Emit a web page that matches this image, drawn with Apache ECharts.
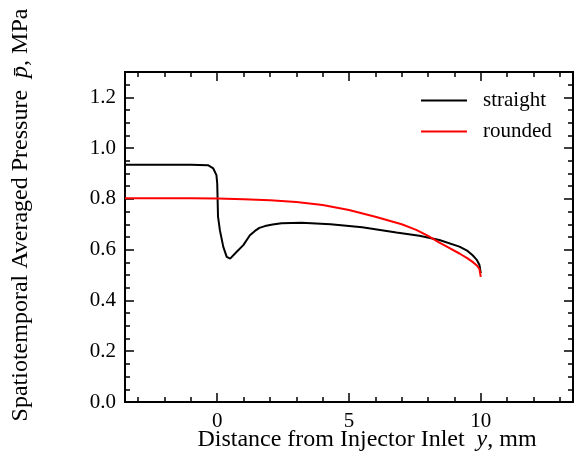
<!DOCTYPE html>
<html>
<head>
<meta charset="utf-8">
<script src="https://cdn.jsdelivr.net/npm/echarts@6/dist/echarts.min.js"></script>
<style>
  html, body { margin: 0; padding: 0; background: #fff; }
  #chart { width: 578px; height: 452px; }
</style>
</head>
<body>
<div id="chart"></div>
<script>
// distance from injector inlet (mm) and averaged pressure (MPa)
const straightY = [-3.5, -1, -0.35, -0.15, -0.03, 0, 0.03, 0.1, 0.23, 0.36, 0.49, 0.74, 0.99, 1.24, 1.43, 1.6, 1.81, 2.1, 2.44, 3.2, 4.3, 5.5, 6.8, 7.67, 8.43, 9.19, 9.5, 9.69, 9.85, 9.95, 10]
const straightP = [0.935, 0.935, 0.933, 0.92, 0.894, 0.86, 0.73, 0.677, 0.611, 0.572, 0.565, 0.592, 0.618, 0.657, 0.674, 0.686, 0.693, 0.699, 0.704, 0.706, 0.70, 0.688, 0.668, 0.655, 0.638, 0.612, 0.595, 0.578, 0.56, 0.54, 0.508]

const roundedY = [-3.5, -1, 0, 1, 2, 3, 4, 5, 6, 7, 7.55, 8, 8.43, 8.8, 9.19, 9.5, 9.69, 9.85, 9.95, 10]
const roundedP = [0.803, 0.803, 0.802, 0.799, 0.795, 0.788, 0.776, 0.756, 0.73, 0.7, 0.678, 0.654, 0.628, 0.607, 0.585, 0.566, 0.552, 0.538, 0.524, 0.493]

const xMajor = [0, 5, 10]
const xMinor = [-3, -2, -1, 0, 1, 2, 3, 4, 5, 6, 7, 8, 9, 10, 11, 12, 13]
const yMajor = [0, 0.2, 0.4, 0.6, 0.8, 1.0, 1.2]
const yMinor = [0, 0.05, 0.1, 0.15, 0.2, 0.25, 0.3, 0.35, 0.4, 0.45, 0.5, 0.55, 0.6, 0.65, 0.7, 0.75, 0.8, 0.85, 0.9, 0.95, 1.0, 1.05, 1.1, 1.15, 1.2, 1.25]

const font = 'Liberation Serif'
const zip = (xs, ys) => xs.map((x, i) => [x, ys[i]])

const chart = echarts.init(document.getElementById('chart'))

const xAx = (pos, ticks, len, labels) => ({
  type: 'value', min: -3.5, max: 13.5, position: pos,
  axisLine: { show: true, onZero: false, lineStyle: { color: '#000', width: 2 } },
  axisTick: { show: true, inside: true, length: len, customValues: ticks, lineStyle: { color: '#000', width: 1.5 } },
  axisLabel: labels
    ? { show: true, customValues: xMajor, margin: 9, color: '#000', fontSize: 21, fontFamily: font }
    : { show: false },
  splitLine: { show: false },
})
const yAx = (pos, ticks, len, labels) => ({
  type: 'value', min: 0, max: 1.3, position: pos,
  axisLine: { show: true, onZero: false, lineStyle: { color: '#000', width: 2 } },
  axisTick: { show: true, inside: true, length: len, customValues: ticks, lineStyle: { color: '#000', width: 1.5 } },
  axisLabel: labels
    ? { show: true, customValues: yMajor, margin: 9, color: '#000', fontSize: 21, fontFamily: font, formatter: (v) => v.toFixed(1) }
    : { show: false },
  splitLine: { show: false },
})

chart.setOption({
  animation: false,
  backgroundColor: '#fff',
  grid: { left: 125, right: 5, top: 72, bottom: 50 },
  xAxis: [
    xAx('bottom', xMajor, 9, true),
    xAx('bottom', xMinor, 5, false),
    xAx('top', xMajor, 9, false),
    xAx('top', xMinor, 5, false),
  ],
  yAxis: [
    yAx('left', yMajor, 9, true),
    yAx('left', yMinor, 5, false),
    yAx('right', yMajor, 9, false),
    yAx('right', yMinor, 5, false),
  ],
  legend: {
    orient: 'vertical', left: 421, top: 90, padding: 0,
    icon: 'rect', itemWidth: 46, itemHeight: 2, itemGap: 10,
    textStyle: { color: '#000', fontSize: 21, lineHeight: 21, fontFamily: font, padding: [0, 0, 0, 11] },
    data: ['straight', 'rounded'],
  },
  graphic: [
    {
      type: 'text', x: 367, y: 440,
      style: {
        text: 'Distance from Injector Inlet  {i|y}, mm',
        font: '24px "Liberation Serif"', fill: '#000', align: 'center', verticalAlign: 'middle',
        rich: { i: { fontStyle: 'italic', fontSize: 24, fontFamily: font } },
      },
    },
    {
      type: 'text', x: 21, y: 215, rotation: Math.PI / 2,
      style: {
        text: 'Spatiotemporal Averaged Pressure  {i|p\u0304}, MPa',
        font: '24px "Liberation Serif"', fill: '#000', align: 'center', verticalAlign: 'middle',
        rich: { i: { fontStyle: 'italic', fontSize: 24, fontFamily: font } },
      },
    },
  ],
  series: [
    {
      name: 'straight', type: 'line', symbol: 'none', showSymbol: false,
      data: zip(straightY, straightP),
      lineStyle: { color: '#000', width: 2 }, itemStyle: { color: '#000' },
    },
    {
      name: 'rounded', type: 'line', symbol: 'none', showSymbol: false,
      data: zip(roundedY, roundedP),
      lineStyle: { color: '#ff0000', width: 2 }, itemStyle: { color: '#ff0000' },
    },
  ],
})
</script>
</body>
</html>
